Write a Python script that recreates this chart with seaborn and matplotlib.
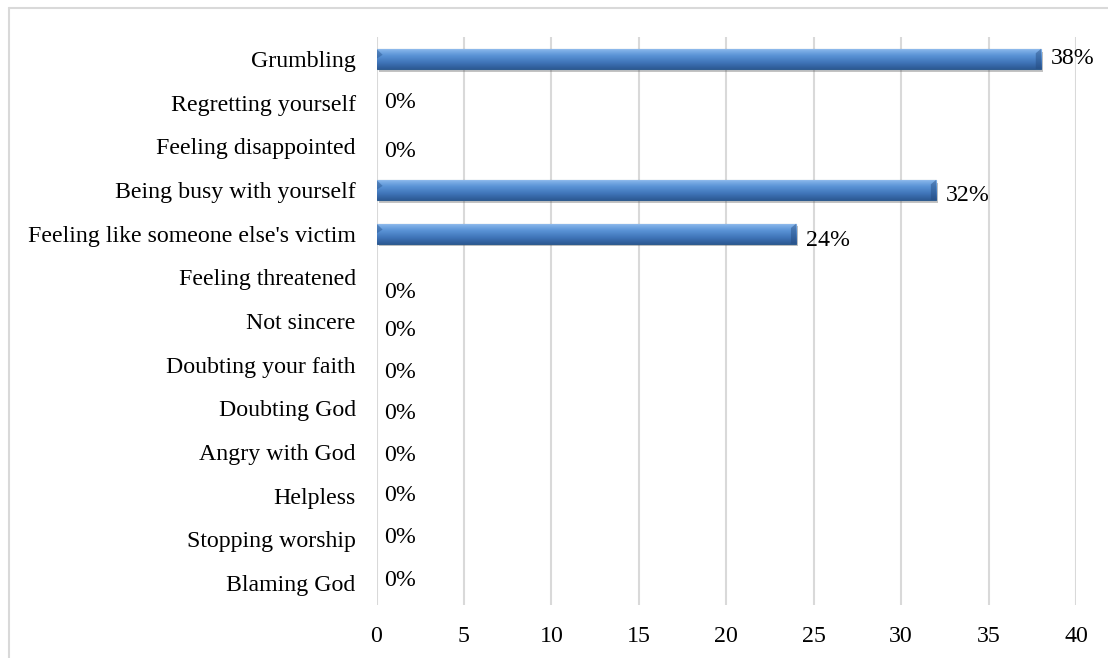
import numpy as np
import pandas as pd
import matplotlib
matplotlib.use("Agg")
import matplotlib.pyplot as plt
import matplotlib.patheffects as pe
from matplotlib.lines import Line2D
from matplotlib.colors import LinearSegmentedColormap
import seaborn as sns

categories = ["Grumbling", "Regretting yourself", "Feeling disappointed",
              "Being busy with yourself", "Feeling like someone else's victim",
              "Feeling threatened", "Not sincere", "Doubting your faith",
              "Doubting God", "Angry with God", "Helpless", "Stopping worship",
              "Blaming God"]
values = [38, 0, 0, 32, 24, 0, 0, 0, 0, 0, 0, 0, 0]
xticks = [0, 5, 10, 15, 20, 25, 30, 35, 40]
# vertical nudges (pixels, downwards) of the data labels, as in the reference
label_dy = [0, 0, 5, 6, 7, 15, 10, 8, 5, 3, 0, -2, -3]

sns.set_theme(style="white")
plt.rcParams["font.family"] = ["Liberation Serif", "DejaVu Serif"]
FS = 17.2

df = pd.DataFrame({"category": categories, "value": values})

fig = plt.figure(figsize=(11.08, 6.58), dpi=100)
ax = fig.add_axes([376.5 / 1108, 1 - 605 / 658, (1076 - 376.5) / 1108, (605 - 37) / 658])

sns.barplot(data=df, y="category", x="value", orient="h", ax=ax,
            color="#4F81BD", width=0.46, edgecolor="#2F5C8F", linewidth=0.8,
            zorder=3)

cmap = LinearSegmentedColormap.from_list(
    "bar3d", [(0.0, "#9CC3EF"), (0.12, "#7DAEE6"), (0.35, "#5A93D6"),
              (0.7, "#3F74B8"), (1.0, "#2D5A94")])
grad = np.linspace(0, 1, 64).reshape(-1, 1)

for patch in ax.patches:
    w = patch.get_width()
    if w <= 0:
        patch.set_visible(False)
        continue
    y0 = patch.get_y()
    h = patch.get_height()
    patch.set_path_effects([pe.SimplePatchShadow(offset=(1.5, -2), alpha=0.35,
                                                 shadow_rgbFace="#555555"),
                            pe.Normal()])
    im = ax.imshow(grad, cmap=cmap, aspect="auto", origin="upper",
                   extent=(0, w, y0 + h, y0), zorder=4, interpolation="bilinear")
    im.set_clip_path(patch)
    # bevelled ends
    ax.fill([w - 0.3, w, w, w - 0.3], [y0 + 0.22 * h, y0, y0 + h, y0 + h],
            color="#244A7E", alpha=0.45, zorder=5, lw=0)
    ax.fill([0, 0.35, 0], [y0, y0 + 0.3 * h, y0 + 0.5 * h],
            color="#2D5A94", alpha=0.5, zorder=5, lw=0)

for i, v in enumerate(values):
    ax.annotate(f"{v}%", xy=(v, i), xytext=(10 if v > 0 else 8, -label_dy[i]),
                textcoords="offset pixels", ha="left", va="center",
                fontsize=FS, color="black", zorder=6)

ax.set_xlim(0, 40)
ax.set_ylim(12.5, -0.5)
ax.set_xticks(xticks)
ax.set_xticklabels([str(t) for t in xticks])
ax.set_xlabel("")
ax.set_ylabel("")
ax.grid(axis="x", color="#D9D9D9", linewidth=1.5, zorder=0)
ax.grid(axis="y", visible=False)
for s in ax.spines.values():
    s.set_visible(False)
ax.tick_params(axis="both", length=0, labelsize=FS, colors="black")
ax.tick_params(axis="y", pad=15)
ax.tick_params(axis="x", pad=15)

# chart-area border (left and top edges visible)
fig.add_artist(Line2D([8.5 / 1108, 8.5 / 1108], [0, 1 - 7.5 / 658],
                      transform=fig.transFigure, color="#D9D9D9", lw=1.5))
fig.add_artist(Line2D([8.5 / 1108, 1], [1 - 7.5 / 658, 1 - 7.5 / 658],
                      transform=fig.transFigure, color="#D9D9D9", lw=1.5))

fig.savefig("out.png", dpi=100)
